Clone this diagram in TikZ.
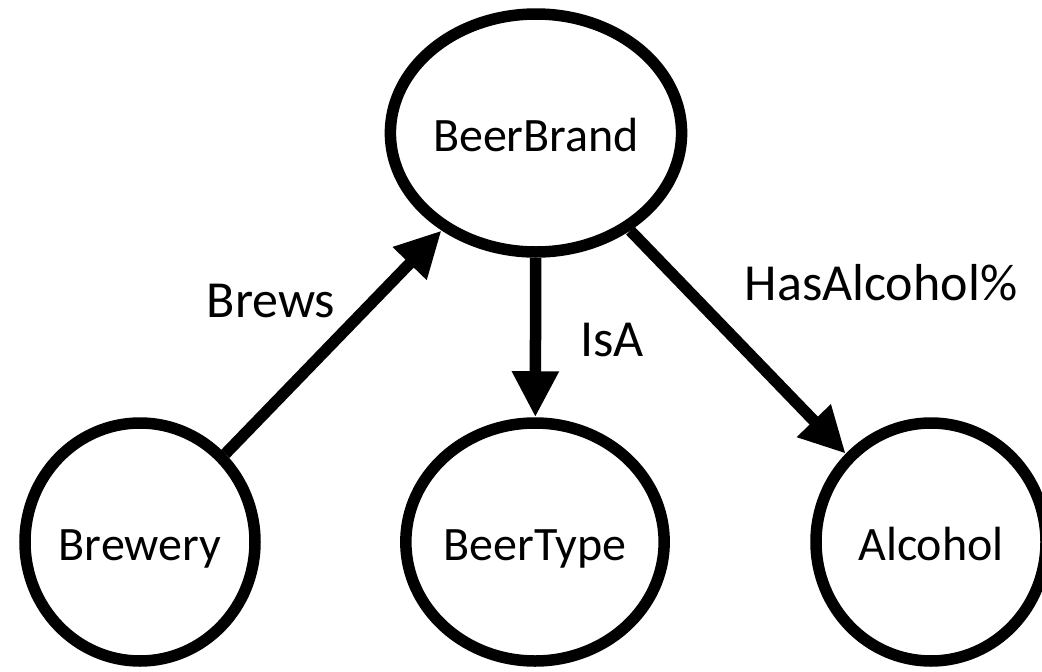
\documentclass[tikz,border=0pt]{standalone}
\usepackage{fontspec}
\setmainfont{Carlito}
\usetikzlibrary{arrows.meta,shapes.geometric}
\begin{document}
\begin{tikzpicture}[x=1pt,y=-1pt,
  ent/.style={draw=black,line width=11.5pt,ellipse,inner sep=0pt,
    minimum width=230pt,minimum height=238pt,
    font=\fontsize{48}{52}\selectfont,text height=37pt,text depth=0pt},
  rel/.style={line width=11.5pt,-{Triangle[length=46pt,width=44pt]}},
  lbl/.style={anchor=base,inner sep=0pt,font=\fontsize{52}{56}\selectfont}]
\useasboundingbox (0,0) rectangle (1042,672);
\node[ent] (beerbrand) at (536,133) {BeerBrand};
\node[ent] (brewery) at (140,542) {Brewery};
\node[ent] (beertype) at (535,542) {BeerType};
\node[ent] (alcohol) at (931,542) {Alcohol};
\draw[rel] (brewery) -- (beerbrand);
\draw[rel] (beerbrand) -- (beertype);
\draw[rel] (beerbrand) -- (alcohol);
\node[lbl] (brews) at (271,317) {Brews};
\node[lbl] (isa) at (612,356) {IsA};
\node[lbl] (hasalc) at (881,300) {HasAlcohol\%};
\end{tikzpicture}
\end{document}
